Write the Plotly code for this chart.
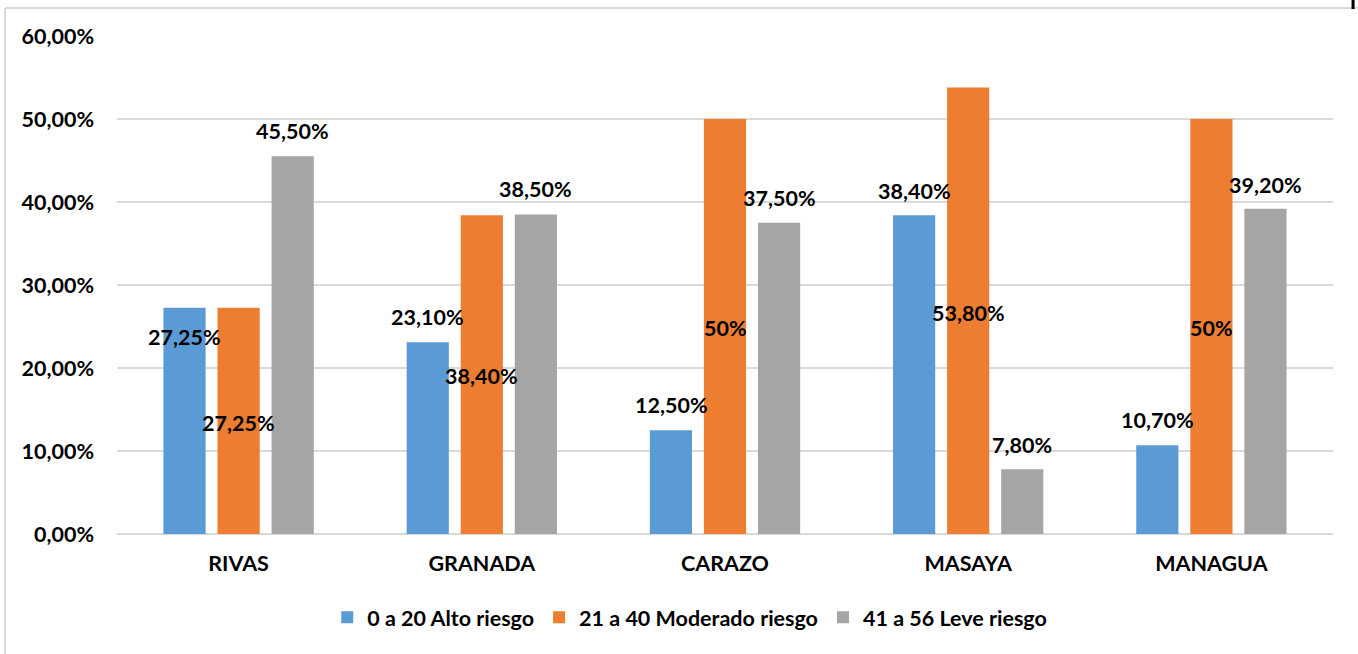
import plotly.graph_objects as go

categories = ["RIVAS", "GRANADA", "CARAZO", "MASAYA", "MANAGUA"]
series_names = ["0 a 20 Alto riesgo", "21 a 40 Moderado riesgo", "41 a 56 Leve riesgo"]
alto = [27.25, 23.10, 12.50, 38.40, 10.70]
moderado = [27.25, 38.40, 50.00, 53.80, 50.00]
leve = [45.50, 38.50, 37.50, 7.80, 39.20]
alto_labels = ["27,25%", "23,10%", "12,50%", "38,40%", "10,70%"]
moderado_labels = ["27,25%", "38,40%", "50%", "53,80%", "50%"]
leve_labels = ["45,50%", "38,50%", "37,50%", "7,80%", "39,20%"]
# manually placed label heights (as in the original chart)
alto_label_y = [23.7, 26.1, 15.5, 41.3, 13.7]
moderado_label_y = [13.4, 19.0, 24.8, 26.6, 24.8]
leve_label_y = [48.6, 41.6, 40.5, 10.7, 42.0]
y_ticks = [0, 10, 20, 30, 40, 50, 60]
y_tick_text = ["0,00%", "10,00%", "20,00%", "30,00%", "40,00%", "50,00%", "60,00%"]

colors = ["#5B9BD5", "#ED7D31", "#A5A5A5"]
FONT = "Lato"
FS = 21.5

fig = go.Figure()
for name, vals, col in zip(series_names, [alto, moderado, leve], colors):
    fig.add_trace(go.Bar(x=categories, y=vals, name=name, marker=dict(color=col, line=dict(width=0)),
                         hoverinfo="skip"))

annotations = []
shifts = [-54, 0, 54]
for shift, labels, ys in zip(shifts, [alto_labels, moderado_labels, leve_labels],
                             [alto_label_y, moderado_label_y, leve_label_y]):
    for cat, lab, yy in zip(categories, labels, ys):
        annotations.append(dict(x=cat, y=yy, xref="x", yref="y", text=lab, showarrow=False,
                                xshift=shift, font=dict(family=FONT, size=FS, color="black", weight="bold"),
                                xanchor="center", yanchor="middle"))

fig.update_layout(
    width=1358, height=654,
    margin=dict(l=117, r=25, t=36, b=120),
    paper_bgcolor="white", plot_bgcolor="white",
    barmode="group", bargap=0.333, bargroupgap=0.22,
    font=dict(family=FONT, size=FS, color="black"),
    xaxis=dict(showgrid=False, showline=False, ticks="", ticklabelstandoff=14,
               tickfont=dict(family=FONT, size=FS, color="black", weight="bold")),
    yaxis=dict(range=[0, 60], tickvals=y_ticks, ticktext=y_tick_text, showgrid=True,
               gridcolor="#D9D9D9", gridwidth=2, zeroline=True, zerolinecolor="#D9D9D9", zerolinewidth=2,
               showline=False, ticks="", ticklabelstandoff=22,
               tickfont=dict(family=FONT, size=FS, color="black", weight="bold")),
    legend=dict(orientation="h", x=0.471, y=-0.167, xanchor="center", yanchor="middle",
                font=dict(family=FONT, size=FS, color="black", weight="bold"),
                itemwidth=30, traceorder="normal"),
    annotations=annotations,
    shapes=[
        dict(type="line", xref="paper", yref="paper", x0=-0.0921, x1=-0.0921, y0=1.0562, y1=-0.3,
             line=dict(color="#D9D9D9", width=2)),
        dict(type="line", xref="paper", yref="paper", x0=-0.0921, x1=1.03, y0=1.0562, y1=1.0562,
             line=dict(color="#D9D9D9", width=2)),
        dict(type="line", xref="paper", yref="paper", x0=1.0165, x1=1.0165, y0=1.0723, y1=1.054,
             line=dict(color="black", width=3)),
    ],
)

fig.write_html("out.html")
